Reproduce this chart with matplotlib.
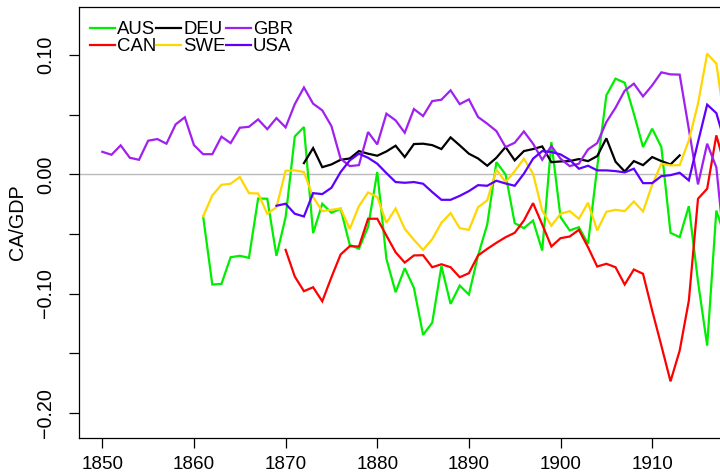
#!/usr/bin/env python3
"""Current account balance over GDP, 1850-1918, six countries."""

import matplotlib

matplotlib.use("Agg")
import matplotlib.pyplot as plt
import numpy as np

plt.rcParams["font.family"] = ["Liberation Sans", "DejaVu Sans"]

# first year of each series, then one value per year
AUS_START = 1861
AUS = [-0.0353, -0.0924, -0.0919, -0.0695, -0.0683, -0.070, -0.0202, -0.0204, -0.0683,
       -0.0359, 0.0319, 0.0398, -0.0493, -0.0246, -0.0322, -0.0288, -0.0591, -0.0624,
       -0.044, 0.002, -0.0708, -0.0989, -0.0787, -0.0952, -0.1347, -0.1244, -0.077,
       -0.1087, -0.0933, -0.1008, -0.068, -0.042, 0.0103, 0.0, -0.0409, -0.0451,
       -0.0387, -0.0639, 0.0272, -0.0359, -0.047, -0.0443, -0.0583, 0.0061, 0.0664,
       0.0804, 0.077, 0.051, 0.023, 0.0384, 0.023, -0.049, -0.0527, -0.0266, -0.09,
       -0.1437, -0.0303, -0.054]

CAN_START = 1870
CAN = [-0.0633, -0.0857, -0.098, -0.0947, -0.1065, -0.0863, -0.0672, -0.0602, -0.0605,
       -0.0372, -0.0372, -0.0513, -0.0653, -0.074, -0.068, -0.0678, -0.0779, -0.0754,
       -0.0779, -0.0863, -0.0829, -0.068, -0.0625, -0.0574, -0.0527, -0.049, -0.0387,
       -0.0241, -0.042, -0.0605, -0.0535, -0.0521, -0.0465, -0.0611, -0.0773, -0.075,
       -0.0779, -0.0924, -0.0798, -0.0834, -0.1143, -0.1437, -0.1737, -0.1479, -0.1059,
       -0.0204, -0.012, 0.0328, 0.005]

DEU_START = 1872
DEU = [0.0095, 0.0221, 0.0061, 0.0084, 0.0123, 0.0134, 0.0196, 0.0174, 0.0157, 0.0193,
       0.0241, 0.0146, 0.0255, 0.0258, 0.0246, 0.0213, 0.0311, 0.0244, 0.0174, 0.0134,
       0.0073, 0.014, 0.023, 0.0118, 0.0196, 0.0213, 0.0235, 0.0103, 0.0109, 0.0112,
       0.0129, 0.0112, 0.0154, 0.0303, 0.0107, 0.0025, 0.0112, 0.0078, 0.0146, 0.0112,
       0.0084, 0.016]

GBR_START = 1850
GBR = [0.019, 0.0165, 0.0244, 0.014, 0.0123, 0.0283, 0.0297, 0.0258, 0.042, 0.048,
       0.0246, 0.017, 0.017, 0.0317, 0.0263, 0.0392, 0.040, 0.0462, 0.038, 0.0473,
       0.0395, 0.059, 0.073, 0.0594, 0.0538, 0.0406, 0.0132, 0.007, 0.0078, 0.0356,
       0.0252, 0.051, 0.0454, 0.035, 0.0549, 0.049, 0.0616, 0.0627, 0.0706, 0.059,
       0.063, 0.0482, 0.0426, 0.0364, 0.023, 0.0266, 0.0361, 0.0258, 0.0123, 0.0238,
       0.0132, 0.007, 0.009, 0.021, 0.0263, 0.044, 0.056, 0.0703, 0.0762, 0.0655,
       0.0748, 0.0857, 0.084, 0.0838, 0.038, -0.0084, 0.0258, 0.006, -0.07]

SWE_START = 1861
SWE = [-0.0353, -0.0176, -0.0087, -0.0078, -0.0022, -0.0157, -0.016, -0.033, -0.0275,
       0.0031, 0.0034, 0.002, -0.019, -0.0308, -0.0297, -0.0286, -0.0457, -0.0266,
       -0.0151, -0.019, -0.0406, -0.0286, -0.0457, -0.0549, -0.0633, -0.0543, -0.0406,
       -0.0325, -0.0451, -0.0465, -0.0275, -0.0218, 0.0042, -0.0064, 0.0028, 0.0132,
       0.0006, -0.0303, -0.0431, -0.033, -0.0308, -0.0372, -0.0238, -0.047, -0.0314,
       -0.0297, -0.0308, -0.0227, -0.0311, -0.0087, 0.009, 0.0076, 0.0078, 0.0286,
       0.0594, 0.1014, 0.093, 0.04]

USA_START = 1869
USA = [-0.0263, -0.0246, -0.033, -0.0353, -0.0157, -0.0165, -0.0112, 0.002, 0.0118,
       0.0174, 0.014, 0.009, 0.0011, -0.0064, -0.007, -0.0064, -0.0078, -0.0148,
       -0.0213, -0.0213, -0.018, -0.014, -0.009, -0.0095, -0.0053, -0.0076, -0.0095,
       0.0006, 0.0132, 0.0196, 0.0188, 0.0168, 0.0123, 0.0048, 0.0073, 0.0034, 0.0034,
       0.0028, 0.0017, 0.0048, -0.0073, -0.0073, -0.0014, -0.0006, 0.0014, -0.005,
       0.0272, 0.0586, 0.0515, 0.025]

SERIES = [
    ("AUS", AUS_START, AUS, "#00ee00"),
    ("CAN", CAN_START, CAN, "#ff0000"),
    ("DEU", DEU_START, DEU, "#000000"),
    ("GBR", GBR_START, GBR, "#a020f0"),
    ("SWE", SWE_START, SWE, "#ffd700"),
    ("USA", USA_START, USA, "#5f00ff"),
]
# legend is filled column by column: AUS/CAN, DEU/SWE, GBR/USA
LEGEND_ORDER = ["AUS", "CAN", "DEU", "SWE", "GBR", "USA"]

X_TICKS = [1850, 1860, 1870, 1880, 1890, 1900, 1910]
Y_TICKS = [-0.20, -0.15, -0.10, -0.05, 0.00, 0.05, 0.10]
Y_LABELS = ["\u22120.20", "", "\u22120.10", "", "0.00", "", "0.10"]


def main():
    W, H = 720, 476
    fig = plt.figure(figsize=(W / 100, H / 100), dpi=100)
    left, top, bottom = 78.5, 7.3, 438.3
    ax = fig.add_axes([left / W, 1 - bottom / H, 1 - left / W, (bottom - top) / H])

    ax.axhline(0, color="#bbbbbb", lw=1.0, zorder=1)
    lines = {}
    for name, start, vals, col in SERIES:
        yrs = np.arange(start, start + len(vals))
        (ln,) = ax.plot(yrs, vals, color=col, lw=1.6, label=name, zorder=2,
                        solid_joinstyle="miter")
        lines[name] = ln

    ax.set_xlim(1847.4, 1917.4)
    ax.set_ylim(-0.2215, 0.1403)
    ax.set_xticks(X_TICKS)
    ax.set_yticks(Y_TICKS)
    ax.set_yticklabels(Y_LABELS)
    ax.tick_params(axis="both", direction="out", length=7.2, width=0.9,
                   labelsize=14.2, colors="black")
    ax.tick_params(axis="x", pad=5.2, labelsize=13.6)
    ax.tick_params(axis="y", pad=9.5)
    for lbl in ax.get_yticklabels():
        lbl.set_rotation(90)
        lbl.set_va("center")
    for side in ("left", "top", "bottom"):
        ax.spines[side].set_linewidth(0.9)
        ax.spines[side].set_color("black")
    ax.spines["right"].set_visible(False)

    fig.text(18 / W, 1 - 222 / H, "CA/GDP", rotation=90, ha="center", va="center",
             fontsize=14.2)

    ax.legend([lines[n] for n in LEGEND_ORDER], LEGEND_ORDER,
              loc="upper left", bbox_to_anchor=(90 / W, 1 - 21 / H),
              bbox_transform=fig.transFigure, ncol=3, frameon=False,
              fontsize=13.4, handlelength=1.35, handletextpad=0.1,
              columnspacing=0.0, labelspacing=0.0, borderpad=0, borderaxespad=0)

    fig.savefig("out.png", dpi=100)
    plt.close(fig)


if __name__ == "__main__":
    main()
